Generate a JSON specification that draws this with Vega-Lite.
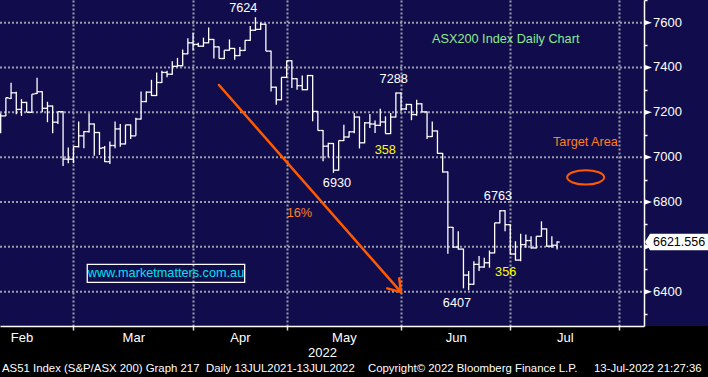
{
  "$schema": "https://vega.github.io/schema/vega-lite/v6.json",
  "width": 644,
  "height": 326,
  "autosize": {"type": "none"},
  "padding": {"left": 0, "top": 0, "right": 64, "bottom": 51},
  "background": "#000000",
  "config": {
    "view": {"fill": "#110d4c", "stroke": null},
    "font": "Liberation Sans"
  },
  "datasets": {
    "ohlc": [
      {"i":6,"o":7170,"h":7196,"l":7107,"c":7184},
      {"i":7,"o":7184,"h":7265,"l":7184,"c":7265},
      {"i":8,"o":7262,"h":7332,"l":7259,"c":7287},
      {"i":9,"o":7287,"h":7292,"l":7191,"c":7213},
      {"i":10,"o":7213,"h":7259,"l":7184,"c":7244},
      {"i":11,"o":7244,"h":7247,"l":7200,"c":7200},
      {"i":12,"o":7200,"h":7281,"l":7198,"c":7281},
      {"i":13,"o":7284,"h":7354,"l":7282,"c":7292},
      {"i":14,"o":7292,"h":7294,"l":7200,"c":7218},
      {"i":15,"o":7218,"h":7247,"l":7156,"c":7228},
      {"i":16,"o":7228,"h":7230,"l":7107,"c":7156},
      {"i":17,"o":7156,"h":7203,"l":7148,"c":7203},
      {"i":18,"o":7203,"h":7205,"l":6961,"c":6991},
      {"i":19,"o":6991,"h":7043,"l":6973,"c":6991},
      {"i":20,"o":6991,"h":7047,"l":6973,"c":7047},
      {"i":21,"o":7047,"h":7159,"l":7043,"c":7095},
      {"i":22,"o":7095,"h":7117,"l":7040,"c":7114},
      {"i":23,"o":7114,"h":7196,"l":7110,"c":7148},
      {"i":24,"o":7148,"h":7150,"l":7006,"c":7110},
      {"i":25,"o":7110,"h":7112,"l":7010,"c":7040},
      {"i":26,"o":7042,"h":7050,"l":6978,"c":6980},
      {"i":27,"o":6980,"h":7070,"l":6969,"c":7052},
      {"i":28,"o":7052,"h":7159,"l":7040,"c":7126},
      {"i":29,"o":7126,"h":7148,"l":7047,"c":7059},
      {"i":30,"o":7059,"h":7144,"l":7057,"c":7144},
      {"i":31,"o":7144,"h":7146,"l":7081,"c":7095},
      {"i":32,"o":7095,"h":7176,"l":7095,"c":7170},
      {"i":33,"o":7170,"h":7293,"l":7168,"c":7248},
      {"i":34,"o":7248,"h":7293,"l":7245,"c":7290},
      {"i":35,"o":7290,"h":7345,"l":7273,"c":7275},
      {"i":36,"o":7275,"h":7378,"l":7273,"c":7333},
      {"i":37,"o":7333,"h":7386,"l":7331,"c":7378},
      {"i":38,"o":7378,"h":7386,"l":7357,"c":7370},
      {"i":39,"o":7370,"h":7428,"l":7368,"c":7405},
      {"i":40,"o":7405,"h":7443,"l":7403,"c":7408},
      {"i":41,"o":7408,"h":7480,"l":7405,"c":7461},
      {"i":42,"o":7461,"h":7530,"l":7459,"c":7510},
      {"i":43,"o":7510,"h":7555,"l":7476,"c":7503},
      {"i":44,"o":7503,"h":7510,"l":7492,"c":7495},
      {"i":45,"o":7495,"h":7533,"l":7492,"c":7510},
      {"i":46,"o":7510,"h":7578,"l":7508,"c":7525},
      {"i":47,"o":7525,"h":7527,"l":7440,"c":7492},
      {"i":48,"o":7492,"h":7494,"l":7440,"c":7440},
      {"i":49,"o":7440,"h":7477,"l":7438,"c":7477},
      {"i":50,"o":7477,"h":7525,"l":7475,"c":7485},
      {"i":51,"o":7485,"h":7487,"l":7435,"c":7453},
      {"i":52,"o":7453,"h":7491,"l":7451,"c":7476},
      {"i":53,"o":7476,"h":7521,"l":7474,"c":7521},
      {"i":54,"o":7521,"h":7585,"l":7519,"c":7566},
      {"i":55,"o":7566,"h":7624,"l":7564,"c":7570},
      {"i":56,"o":7570,"h":7600,"l":7568,"c":7593},
      {"i":57,"o":7593,"h":7595,"l":7473,"c":7473},
      {"i":58,"o":7473,"h":7475,"l":7293,"c":7312},
      {"i":59,"o":7312,"h":7314,"l":7234,"c":7256},
      {"i":60,"o":7256,"h":7356,"l":7254,"c":7356},
      {"i":61,"o":7356,"h":7430,"l":7354,"c":7430},
      {"i":62,"o":7430,"h":7432,"l":7308,"c":7350},
      {"i":63,"o":7350,"h":7352,"l":7301,"c":7319},
      {"i":64,"o":7319,"h":7364,"l":7299,"c":7301},
      {"i":65,"o":7301,"h":7367,"l":7299,"c":7364},
      {"i":66,"o":7364,"h":7366,"l":7160,"c":7204},
      {"i":67,"o":7204,"h":7206,"l":7119,"c":7119},
      {"i":68,"o":7119,"h":7121,"l":6982,"c":7049},
      {"i":69,"o":7049,"h":7064,"l":7000,"c":7061},
      {"i":70,"o":7061,"h":7063,"l":6930,"c":6942},
      {"i":71,"o":6942,"h":7074,"l":6940,"c":7074},
      {"i":72,"o":7074,"h":7145,"l":7072,"c":7090},
      {"i":73,"o":7090,"h":7116,"l":7088,"c":7113},
      {"i":74,"o":7113,"h":7197,"l":7107,"c":7179},
      {"i":75,"o":7179,"h":7181,"l":7039,"c":7064},
      {"i":76,"o":7064,"h":7157,"l":7062,"c":7153},
      {"i":77,"o":7153,"h":7193,"l":7130,"c":7148},
      {"i":78,"o":7148,"h":7163,"l":7108,"c":7142},
      {"i":79,"o":7142,"h":7216,"l":7138,"c":7157},
      {"i":80,"o":7157,"h":7182,"l":7105,"c":7105},
      {"i":81,"o":7105,"h":7197,"l":7103,"c":7179},
      {"i":82,"o":7179,"h":7288,"l":7177,"c":7286},
      {"i":83,"o":7286,"h":7288,"l":7207,"c":7215},
      {"i":84,"o":7215,"h":7238,"l":7210,"c":7235},
      {"i":85,"o":7235,"h":7237,"l":7165,"c":7190},
      {"i":86,"o":7190,"h":7256,"l":7185,"c":7238},
      {"i":87,"o":7238,"h":7240,"l":7200,"c":7202},
      {"i":88,"o":7202,"h":7204,"l":7081,"c":7092},
      {"i":89,"o":7092,"h":7159,"l":7090,"c":7117},
      {"i":90,"o":7117,"h":7119,"l":7015,"c":7017},
      {"i":91,"o":7017,"h":7019,"l":6932,"c":6934},
      {"i":92,"o":6934,"h":6936,"l":6569,"c":6687},
      {"i":93,"o":6687,"h":6689,"l":6596,"c":6599},
      {"i":94,"o":6599,"h":6670,"l":6588,"c":6590},
      {"i":95,"o":6590,"h":6592,"l":6415,"c":6474},
      {"i":96,"o":6474,"h":6492,"l":6407,"c":6433},
      {"i":97,"o":6433,"h":6536,"l":6431,"c":6522},
      {"i":98,"o":6522,"h":6559,"l":6492,"c":6510},
      {"i":99,"o":6510,"h":6551,"l":6507,"c":6529},
      {"i":100,"o":6529,"h":6584,"l":6507,"c":6573},
      {"i":101,"o":6573,"h":6707,"l":6571,"c":6707},
      {"i":102,"o":6707,"h":6763,"l":6705,"c":6761},
      {"i":103,"o":6761,"h":6763,"l":6670,"c":6699},
      {"i":104,"o":6699,"h":6701,"l":6566,"c":6568},
      {"i":105,"o":6568,"h":6625,"l":6539,"c":6541},
      {"i":106,"o":6541,"h":6658,"l":6536,"c":6610},
      {"i":107,"o":6610,"h":6655,"l":6596,"c":6628},
      {"i":108,"o":6628,"h":6647,"l":6593,"c":6595},
      {"i":109,"o":6595,"h":6647,"l":6593,"c":6647},
      {"i":110,"o":6647,"h":6714,"l":6645,"c":6680},
      {"i":111,"o":6680,"h":6682,"l":6600,"c":6603},
      {"i":112,"o":6603,"h":6647,"l":6596,"c":6607},
      {"i":113,"o":6607,"h":6625,"l":6588,"c":6621.556}
    ],
    "gridY": [{"v":6400},{"v":6600},{"v":6800},{"v":7000},{"v":7200},{"v":7400},{"v":7600}],
    "notes": [
      {"i":52.65,"v":7666,"text":"7624","kind":"level"},
      {"i":81.58,"v":7349,"text":"7288","kind":"level"},
      {"i":70.67,"v":6883,"text":"6930","kind":"level"},
      {"i":101.63,"v":6827,"text":"6763","kind":"level"},
      {"i":93.75,"v":6350,"text":"6407","kind":"level"},
      {"i":79.96,"v":7030,"text":"358","kind":"move"},
      {"i":103.12,"v":6488,"text":"356","kind":"move"},
      {"i":63.46,"v":6751,"text":"16%","kind":"note"},
      {"i":118.46,"v":7066,"text":"Target Area","kind":"note"},
      {"i":103.13,"v":7527,"text":"ASX200 Index Daily Chart","kind":"heading"},
      {"i":37.79,"v":6482,"text":"www.marketmatters.com.au","kind":"site"}
    ],
    "arrow": [
      {"x1":47.98,"y1":7322,"x2":82.98,"y2":6398},
      {"x1":80.35,"y1":6415,"x2":82.98,"y2":6398},
      {"x1":82.65,"y1":6460,"x2":82.98,"y2":6398}
    ],
    "box": [{"x1":22.65,"x2":52.92,"y1":6522,"y2":6442}],
    "target": [{"i":118.5,"v":6910}],
    "last": [{"i":129.72,"v":6621.556}],
    "footer": [
      {"i":6.25,"v":6055,"text":"AS51 Index (S&P/ASX 200) Graph 217"},
      {"i":45.48,"v":6055,"text":"Daily 13JUL2021-13JUL2022"},
      {"i":76.63,"v":6055,"text":"Copyright© 2022 Bloomberg Finance L.P."},
      {"i":120.1,"v":6055,"text":"13-Jul-2022 21:27:36"}
    ]
  },
  "layer": [
    {
      "data": {"values": [{}]},
      "mark": {"type": "rect", "color": "#110d4c", "opacity": 1},
      "encoding": {
        "x": {
          "datum": 129.72, "type": "quantitative",
          "scale": {"domain": [5.87, 129.72], "nice": false, "zero": false},
          "axis": {
            "orient": "bottom",
            "values": [10, 20, 31.5, 43, 52, 61, 72, 83, 93.5, 104, 114.5, 125],
            "labelExpr": "datum.value==10?'Feb':datum.value==31.5?'Mar':datum.value==52?'Apr':datum.value==72?'May':datum.value==93.5?'Jun':datum.value==114.5?'Jul':''",
            "grid": true, "gridColor": "#9c9cac", "gridWidth": 2, "gridDash": [2, 2],
            "gridOpacity": {"condition": {"test": "indexof([20,43,61,83,104,125], datum.value) >= 0", "value": 1}, "value": 0},
            "ticks": true, "tickColor": "#d8d8d8", "tickSize": 4, "tickWidth": 1.5,
            "tickOpacity": {"condition": {"test": "indexof([20,43,61,83,104,125], datum.value) >= 0", "value": 1}, "value": 0},
            "domain": true, "domainColor": "#ffffff", "domainWidth": 1.5,
            "labelColor": "#ffffff", "labelFontSize": 13, "labelPadding": 1,
            "labelFlush": false, "labelOverlap": false, "labelBound": false,
            "title": "2022", "titleColor": "#ffffff", "titleFontSize": 13, "titleFontWeight": "normal",
            "titleX": 322, "titleY": 26, "titleBaseline": "middle", "titleAlign": "center"
          }
        },
        "x2": {"datum": 142.2},
        "y": {
          "datum": 6247, "type": "quantitative",
          "scale": {"domain": [6247, 7701], "nice": false, "zero": false},
          "axis": {
            "orient": "right", "zindex": 1,
            "values": [6300, 6400, 6500, 6600, 6700, 6800, 6900, 7000, 7100, 7200, 7300, 7400, 7500, 7600, 7700],
            "labels": false,
            "grid": false, "domain": true, "domainColor": "#ffffff", "domainWidth": 1.5,
            "ticks": true, "tickColor": "#ffffff", "tickSize": 3, "tickWidth": 1.5,
            "title": null
          }
        },
        "y2": {"datum": 7701}
      }
    },
    {
      "data": {"name": "gridY"},
      "mark": {"type": "rule", "color": "#9c9cac", "strokeWidth": 2, "strokeDash": [2, 2]},
      "encoding": {
        "x": {"datum": 5.87, "type": "quantitative"},
        "x2": {"datum": 129.72},
        "y": {"field": "v", "type": "quantitative"}
      }
    },
    {
      "data": {"name": "box"},
      "mark": {"type": "rect", "filled": false, "stroke": "#ffffff", "strokeWidth": 1.3},
      "encoding": {
        "x": {"field": "x1", "type": "quantitative"},
        "x2": {"field": "x2"},
        "y": {"field": "y1", "type": "quantitative"},
        "y2": {"field": "y2"}
      }
    },
    {
      "data": {"name": "ohlc"},
      "mark": {"type": "rule", "color": "#ffffff", "strokeWidth": 1.3},
      "encoding": {
        "x": {"field": "i", "type": "quantitative"},
        "y": {"field": "l", "type": "quantitative"},
        "y2": {"field": "h"}
      }
    },
    {
      "data": {"name": "ohlc"},
      "mark": {"type": "tick", "orient": "horizontal", "color": "#ffffff", "opacity": 1, "size": 2.7, "thickness": 1.3, "xOffset": -1.3},
      "encoding": {
        "x": {"field": "i", "type": "quantitative"},
        "y": {"field": "o", "type": "quantitative"}
      }
    },
    {
      "data": {"name": "ohlc"},
      "mark": {"type": "tick", "orient": "horizontal", "color": "#ffffff", "opacity": 1, "size": 2.7, "thickness": 1.3, "xOffset": 1.3},
      "encoding": {
        "x": {"field": "i", "type": "quantitative"},
        "y": {"field": "c", "type": "quantitative"}
      }
    },
    {
      "data": {"name": "arrow"},
      "mark": {"type": "rule", "color": "#ff5a00", "strokeWidth": 2.5, "strokeCap": "round"},
      "encoding": {
        "x": {"field": "x1", "type": "quantitative"},
        "x2": {"field": "x2"},
        "y": {"field": "y1", "type": "quantitative"},
        "y2": {"field": "y2"}
      }
    },
    {
      "data": {"name": "target"},
      "mark": {"type": "point", "shape": "M-1,0C-1,-0.2154,-0.5523,-0.39,0,-0.39C0.5523,-0.39,1,-0.2154,1,0C1,0.2154,0.5523,0.39,0,0.39C-0.5523,0.39,-1,0.2154,-1,0Z", "size": 1369, "filled": false, "stroke": "#ff5a00", "strokeWidth": 2, "opacity": 1},
      "encoding": {
        "x": {"field": "i", "type": "quantitative"},
        "y": {"field": "v", "type": "quantitative"}
      }
    },
    {
      "data": {"name": "notes"},
      "mark": {"type": "text", "fontSize": 12.7, "align": "center", "baseline": "middle"},
      "encoding": {
        "x": {"field": "i", "type": "quantitative"},
        "y": {"field": "v", "type": "quantitative"},
        "text": {"field": "text"},
        "color": {
          "field": "kind", "type": "nominal", "legend": null,
          "scale": {"domain": ["level", "move", "note", "heading", "site"], "range": ["#ffffff", "#ffff00", "#ff7f1e", "#8fe88f", "#00e0f0"]}
        }
      }
    },
    {
      "data": {"name": "gridY"},
      "mark": {"type": "point", "shape": "M-1,-0.7L1,0L-1,0.7Z", "size": 49, "filled": true, "color": "#ffffff", "opacity": 1, "xOffset": 4.5},
      "encoding": {
        "x": {"datum": 129.72, "type": "quantitative"},
        "y": {"field": "v", "type": "quantitative"}
      }
    },
    {
      "data": {"name": "gridY"},
      "transform": [{"filter": "datum.v != 6600"}],
      "mark": {"type": "text", "fontSize": 13, "align": "left", "baseline": "middle", "dx": 9, "color": "#ffffff"},
      "encoding": {
        "x": {"datum": 129.72, "type": "quantitative"},
        "y": {"field": "v", "type": "quantitative"},
        "text": {"field": "v", "type": "quantitative", "format": "d"}
      }
    },
    {
      "data": {"name": "last"},
      "mark": {"type": "point", "shape": "M-1,0L-0.84,-0.26L1,-0.26L1,0.26L-0.84,0.26Z", "size": 3969, "filled": true, "color": "#ffffff", "opacity": 1, "xOffset": 32.5},
      "encoding": {
        "x": {"field": "i", "type": "quantitative"},
        "y": {"field": "v", "type": "quantitative"}
      }
    },
    {
      "data": {"name": "last"},
      "mark": {"type": "text", "fontSize": 12.5, "align": "left", "baseline": "middle", "dx": 9, "color": "#000000"},
      "encoding": {
        "x": {"field": "i", "type": "quantitative"},
        "y": {"field": "v", "type": "quantitative"},
        "text": {"field": "v", "type": "quantitative", "format": ".3f"}
      }
    },
    {
      "data": {"name": "footer"},
      "mark": {"type": "text", "fontSize": 11.4, "align": "left", "baseline": "middle", "color": "#ffffff"},
      "encoding": {
        "x": {"field": "i", "type": "quantitative"},
        "y": {"field": "v", "type": "quantitative"},
        "text": {"field": "text"}
      }
    }
  ]
}
